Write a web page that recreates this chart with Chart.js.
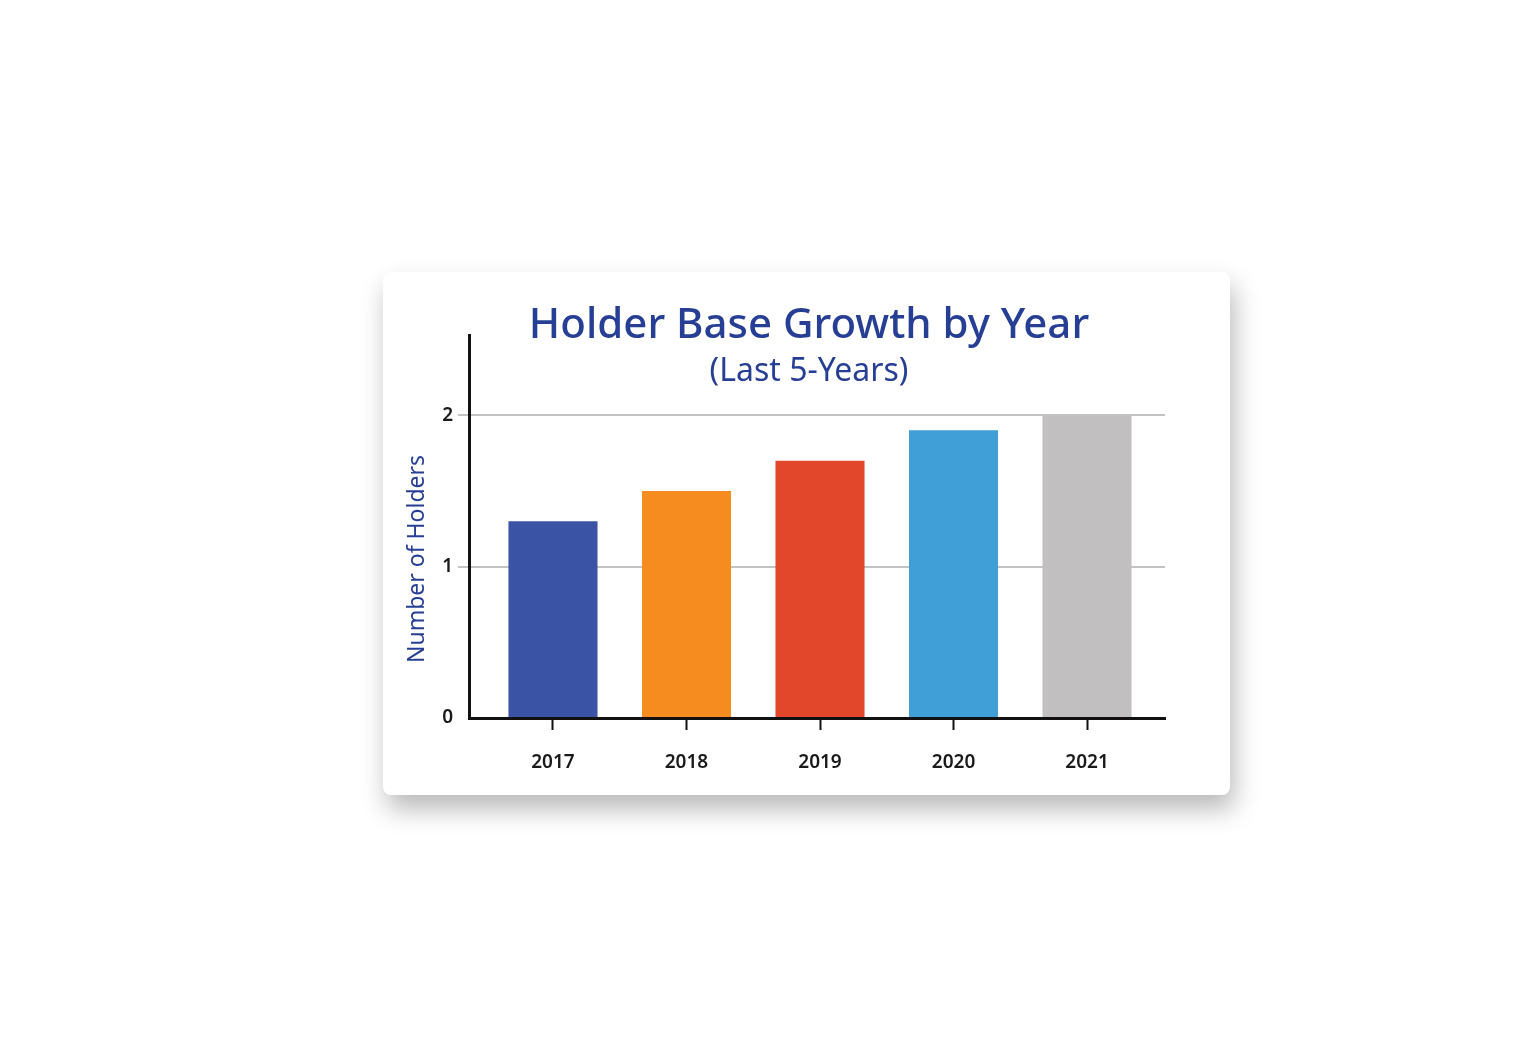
<!DOCTYPE html>
<html>
<head>
<meta charset="utf-8">
<script src="https://cdn.jsdelivr.net/npm/chart.js@4/dist/chart.umd.min.js"></script>
<style>
  html, body { margin: 0; padding: 0; background: #ffffff; }
  body { width: 1536px; height: 1060px; position: relative; overflow: hidden; }
  #card {
    position: absolute; left: 383px; top: 272px; width: 847px; height: 523px;
    background: #ffffff; border-radius: 8px;
    box-shadow: 4px 14px 26px rgba(0,0,0,0.28);
  }
  #card canvas { position: absolute; left: 0; top: 0; }
</style>
</head>
<body>
<div id="card"><canvas id="c" width="847" height="523"></canvas></div>
<script>
const years = ['2017', '2018', '2019', '2020', '2021'];
const holders = [1.3, 1.5, 1.7, 1.9, 2.0];
const barColors = ['#3b53a4', '#f68b1f', '#e2462b', '#419fd7', '#c1bfc0'];
const yTicks = [0, 1, 2];
const titleText = 'Holder Base Growth by Year';
const subtitleText = '(Last 5-Years)';
const yTitleText = 'Number of Holders';

const FONT = '"Noto Sans", "Open Sans", sans-serif';
const BLUE = '#263f94';

const textPlugin = {
  id: 'texts',
  afterDraw(chart) {
    const ctx = chart.ctx;
    ctx.save();
    ctx.fillStyle = BLUE;
    ctx.textAlign = 'center';
    ctx.textBaseline = 'middle';
    ctx.font = '500 42px ' + FONT;
    ctx.fillText(titleText, 426, 54);
    ctx.font = '400 32px ' + FONT;
    ctx.fillText(subtitleText, 426, 100);
    ctx.translate(34, 287);
    ctx.rotate(-Math.PI / 2);
    ctx.font = '400 23px ' + FONT;
    ctx.fillText(yTitleText, 0, 0);
    ctx.restore();
  }
};

new Chart(document.getElementById('c'), {
  type: 'bar',
  data: {
    datasets: [{
      data: holders.map((v, i) => ({ x: i, y: v })),
      backgroundColor: barColors,
      borderWidth: 0,
      categoryPercentage: 0.667,
      barPercentage: 1.0
    }]
  },
  options: {
    responsive: false,
    animation: false,
    events: [],
    layout: { padding: { top: 63, right: 65, left: 0, bottom: 0 } },
    plugins: { legend: { display: false }, tooltip: { enabled: false }, title: { display: false } },
    scales: {
      x: {
        type: 'linear',
        offset: false,
        min: -0.629,
        max: 4.584,
        z: 1,
        afterBuildTicks: (s) => { s.ticks = years.map((_, i) => ({ value: i })); },
        afterFit: (s) => { s.height = 77; },
        ticks: {
          autoSkip: false,
          maxRotation: 0,
          padding: 21,
          color: '#1a1a1a',
          font: { family: FONT, size: 19, weight: 600 },
          callback: (v) => years[v]
        },
        grid: {
          offset: false,
          drawOnChartArea: false,
          drawTicks: true,
          tickLength: 12,
          tickColor: '#111111',
          tickWidth: 2
        },
        border: { display: true, color: '#111111', width: 3 }
      },
      y: {
        min: 0,
        max: 2.53,
        afterBuildTicks: (s) => { s.ticks = yTicks.map(v => ({ value: v })); },
        afterFit: (s) => { s.width = 86; },
        ticks: {
          padding: 5,
          color: '#1a1a1a',
          font: { family: FONT, size: 19, weight: 600 },
          callback: (v) => String(v)
        },
        grid: {
          color: (c) => (c.tick && c.tick.value === 0) ? 'rgba(0,0,0,0)' : '#c4c4c4',
          lineWidth: 2,
          tickLength: 11
        },
        border: { display: true, color: '#111111', width: 3 }
      }
    }
  },
  plugins: [textPlugin]
});
</script>
</body>
</html>
